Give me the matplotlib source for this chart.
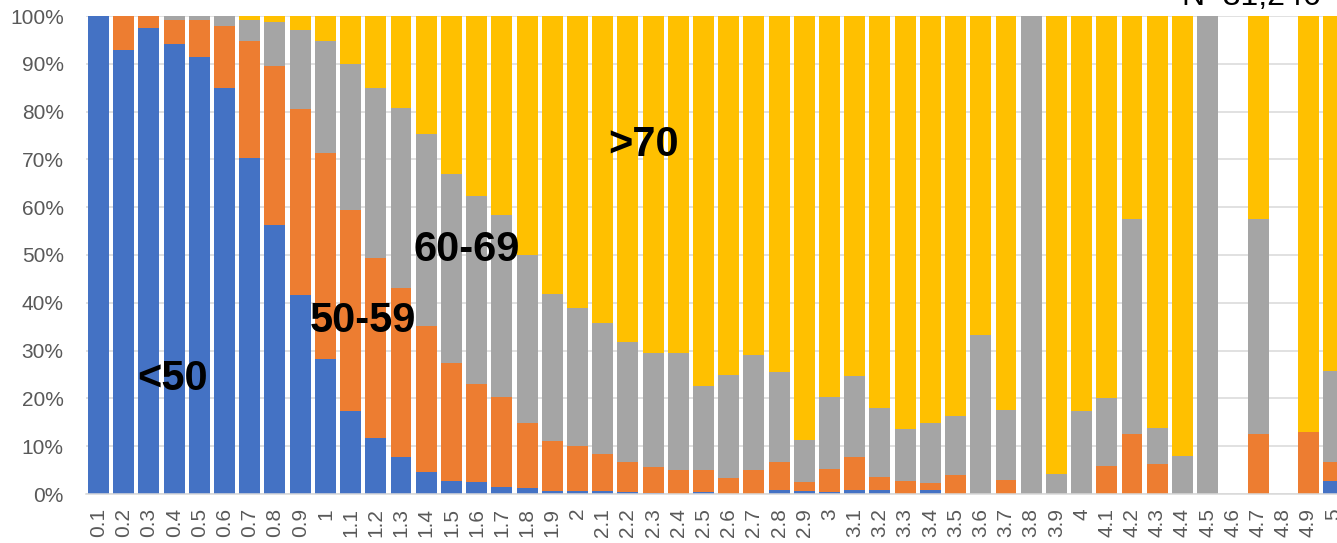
import numpy as np
import matplotlib
matplotlib.use('Agg')
import matplotlib.pyplot as plt

plt.rcParams['font.family'] = ['Liberation Sans', 'DejaVu Sans']

# 카테고리 (x축 라벨)
labels = ['0.1', '0.2', '0.3', '0.4', '0.5', '0.6', '0.7', '0.8', '0.9', '1',
          '1.1', '1.2', '1.3', '1.4', '1.5', '1.6', '1.7', '1.8', '1.9', '2',
          '2.1', '2.2', '2.3', '2.4', '2.5', '2.6', '2.7', '2.8', '2.9', '3',
          '3.1', '3.2', '3.3', '3.4', '3.5', '3.6', '3.7', '3.8', '3.9', '4',
          '4.1', '4.2', '4.3', '4.4', '4.5', '4.6', '4.7', '4.8', '4.9', '5']

# 각 구간 비율 (%)
under50 = [100, 92.9, 97.5, 94.1, 91.5, 85.0, 70.2, 56.3, 41.6, 28.2,
           17.4, 11.7, 7.7, 4.6, 2.7, 2.6, 1.5, 1.2, 0.7, 0.6,
           0.7, 0.4, 0.3, 0.1, 0.4, 0, 0.1, 0.9, 0.6, 0.4,
           0.8, 0.8, 0, 0.8, 0, 0, 0, 0, 0, 0,
           0, 0, 0, 0, 0, 0, 0, 0, 0, 2.7]
age50_59 = [0, 7.1, 2.5, 5.0, 7.6, 13.0, 24.6, 33.2, 38.9, 43.2,
            42.1, 37.6, 35.5, 30.5, 24.8, 20.5, 18.7, 13.6, 10.4, 9.4,
            7.7, 6.3, 5.4, 5.0, 4.6, 3.3, 4.9, 5.8, 1.9, 4.8,
            7.0, 2.7, 2.8, 1.4, 3.9, 0, 2.9, 0, 0, 0,
            5.8, 12.5, 6.2, 0, 0, 0, 12.5, 0, 12.9, 4.0]
age60_69 = [0, 0, 0, 0.9, 0.9, 2.0, 4.3, 9.3, 16.5, 23.3,
            30.4, 35.7, 37.6, 40.2, 39.5, 39.3, 38.2, 35.3, 30.8, 29.0,
            27.4, 25.0, 23.9, 24.5, 17.5, 21.6, 24.1, 18.9, 8.8, 15.0,
            16.8, 14.5, 10.9, 12.7, 12.5, 33.2, 14.6, 100, 4.2, 17.4,
            14.2, 45.1, 7.7, 8.0, 100, 0, 45.1, 0, 0, 19.1]
over70 = [0, 0, 0, 0, 0, 0, 0.9, 1.2, 3.0, 5.3,
          10.1, 15.0, 19.2, 24.7, 33.0, 37.6, 41.6, 49.9, 58.1, 61.0,
          64.2, 68.3, 70.4, 70.4, 77.5, 75.1, 70.9, 74.4, 88.7, 79.8,
          75.4, 82.0, 86.3, 85.1, 83.6, 66.8, 82.5, 0, 95.8, 82.6,
          80.0, 42.4, 86.1, 92.0, 0, 0, 42.4, 0, 87.1, 74.2]

series = [under50, age50_59, age60_69, over70]
colors = ['#4472C4', '#ED7D31', '#A5A5A5', '#FFC000']

fig = plt.figure(figsize=(13.37, 5.43), dpi=100)
# 그림 오른쪽이 잘려 있으므로 축이 그림 밖으로 조금 나감
ax = fig.add_axes([85.9 / 1337, 49 / 543, 1260.4 / 1337, 478 / 543])

x = np.arange(len(labels))
bottom = np.zeros(len(labels))
for vals, c in zip(series, colors):
    vals = np.array(vals, dtype=float)
    ax.bar(x, vals, bottom=bottom, width=0.83, color=c, zorder=2)
    bottom += vals

ax.set_xlim(-0.5, len(labels) - 0.5)
ax.set_ylim(0, 100)
ax.set_yticks(np.arange(0, 101, 10))
ax.set_yticklabels(['%d%%' % v for v in range(0, 101, 10)])
ax.set_xticks(x)
ax.set_xticklabels(labels, rotation=90)
ax.yaxis.grid(True, color='#D9D9D9', linewidth=1.1, zorder=0)
ax.set_axisbelow(True)
for s in ['top', 'right', 'left']:
    ax.spines[s].set_visible(False)
ax.spines['bottom'].set_color('#D9D9D9')
ax.spines['bottom'].set_linewidth(1.1)
ax.tick_params(axis='both', length=0, labelsize=15, labelcolor='#595959')
ax.tick_params(axis='y', pad=16)
ax.tick_params(axis='x', pad=10)

# 구간 이름 표시
ax.text(2.92, 24.1, '<50', fontsize=30, fontweight='bold', ha='center', va='center', zorder=3)
ax.text(10.49, 36.2, '50-59', fontsize=30, fontweight='bold', ha='center', va='center', zorder=3)
ax.text(14.6, 51.0, '60-69', fontsize=30, fontweight='bold', ha='center', va='center', zorder=3)
ax.text(21.64, 73.0, '>70', fontsize=30, fontweight='bold', ha='center', va='center', zorder=3)

fig.text(1251 / 1337, 1 - 5 / 543, 'N=31,246', fontsize=23, ha='center', va='baseline', color='black')

fig.savefig('out.png', dpi=100)
